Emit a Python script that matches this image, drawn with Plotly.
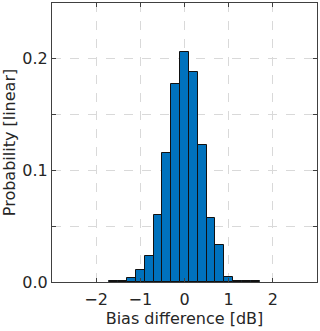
import plotly.graph_objects as go

# bin centres (width 0.2 dB) and probabilities
bin_centers = [-1.6, -1.4, -1.2, -1.0, -0.8, -0.6, -0.4, -0.2, 0.0,
               0.2, 0.4, 0.6, 0.8, 1.0, 1.2, 1.4, 1.6]
probability = [0.001, 0.001, 0.004, 0.0105, 0.0234, 0.060, 0.116, 0.177, 0.206,
               0.188, 0.123, 0.0573, 0.0333, 0.0045, 0.001, 0.001, 0.001]

x_ticks = [-2, -1, 0, 1, 2]
y_ticks = [0.0, 0.05, 0.1, 0.15, 0.2]
y_ticktext = ["0.0", "", "0.1", "", "0.2"]

FONT = "DejaVu Sans"
AXIS_COLOR = "#404040"
TEXT_COLOR = "#262626"

fig = go.Figure()
fig.add_bar(
    x=bin_centers,
    y=probability,
    width=0.2,
    marker=dict(color="#0072BD", line=dict(color="#111111", width=1)),
)

axis_common = dict(
    showline=True,
    linecolor=AXIS_COLOR,
    linewidth=1,
    mirror="allticks",
    ticks="inside",
    ticklen=4,
    tickcolor=AXIS_COLOR,
    showgrid=True,
    gridcolor="#d9d9d9",
    griddash="dash",
    gridwidth=1,
    zeroline=False,
    automargin=False,
    tickfont=dict(family=FONT, size=16, color=TEXT_COLOR),
)

fig.update_xaxes(
    range=[-3, 3],
    tickvals=x_ticks,
    ticklabelstandoff=3,
    title=dict(text="Bias difference [dB]", font=dict(family=FONT, size=16, color=TEXT_COLOR),
               standoff=0),
    **axis_common,
)
fig.update_yaxes(
    range=[0, 0.25],
    tickvals=y_ticks,
    ticktext=y_ticktext,
    title=dict(text="Probability [linear]", font=dict(family=FONT, size=16, color=TEXT_COLOR),
               standoff=2),
    **axis_common,
)

fig.update_layout(
    width=320,
    height=331,
    margin=dict(l=52, r=3, t=3, b=49),
    plot_bgcolor="white",
    paper_bgcolor="white",
    showlegend=False,
    bargap=0,
)

# the page has a default 8px body margin; drop it so the figure sits at 0,0
fig.write_html("out.html", config={"displayModeBar": False},
               post_script="document.body.style.margin='0';")
